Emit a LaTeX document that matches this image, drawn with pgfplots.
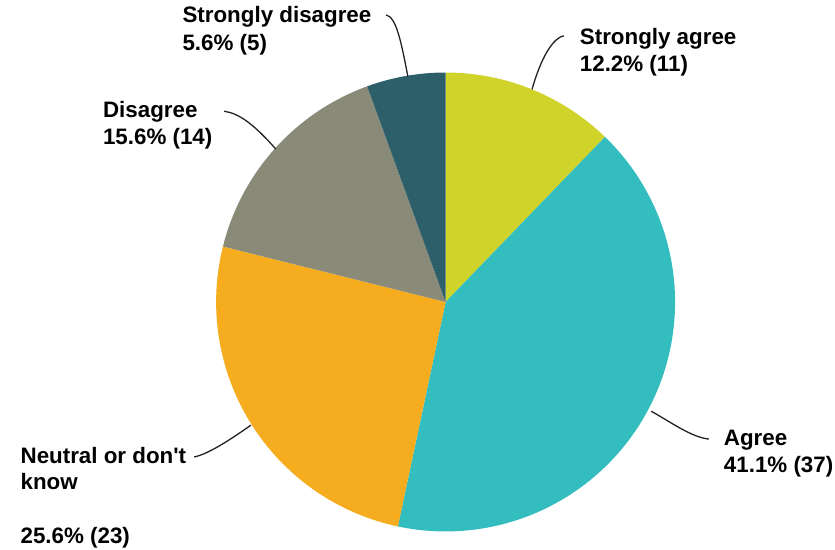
\documentclass[border=0pt]{standalone}
\usepackage{pgfplots}
\usepackage{pgfplotstable}
\pgfplotsset{compat=1.18}
\usepackage{fontspec}
\setmainfont{Liberation Sans}
\definecolor{slice0}{HTML}{D0D32A}
\definecolor{slice1}{HTML}{33BDBF}
\definecolor{slice2}{HTML}{F5AC1F}
\definecolor{slice3}{HTML}{898A78}
\definecolor{slice4}{HTML}{2D5F6B}
\definecolor{leader}{HTML}{222222}
\pgfplotstableread{
label count
SA 11
A 37
N 23
D 14
SD 5
}\piedata
\begin{document}
\def\cum{0}
\pgfplotsforeachungrouped \i in {0,...,4}{%
  \pgfplotstablegetelem{\i}{count}\of\piedata
  \pgfmathsetmacro\sa{90-(\cum/90)*360}%
  \pgfmathsetmacro\newcum{\cum+\pgfplotsretval}%
  \pgfmathsetmacro\ea{90-(\newcum/90)*360}%
  \expandafter\xdef\csname s\i\endcsname{\sa}%
  \expandafter\xdef\csname e\i\endcsname{\ea}%
  \xdef\cum{\newcum}%
}
\begin{tikzpicture}
\begin{axis}[
  at={(0,0)}, anchor=south west,
  width=835pt, height=553pt, scale only axis,
  xmin=0, xmax=835, ymin=0, ymax=553,
  hide axis, clip=false,
]
\pgfplotsinvokeforeach{0,...,4}{
  \addplot[fill=slice#1, draw=none, samples=120, variable=\t,
    domain={\csname e#1\endcsname}:{\csname s#1\endcsname}]
    ({443+231*cos(\t)},{249+231*sin(\t)}) -- (443,249) -- cycle;
}
% leader lines (pixel coords, y flipped: 553-y)
\draw[leader, line width=1.3pt] (383,538) .. controls (393,536) and (398,513) .. (405,476);
\draw[leader, line width=1.3pt] (220,441) .. controls (235,439) and (250,428) .. (272,403);
\draw[leader, line width=1.3pt] (562,517) .. controls (552,515) and (540,498) .. (530,463);
\draw[leader, line width=1.3pt] (650,139) .. controls (670,128) and (690,113) .. (708,111);
\draw[leader, line width=1.3pt] (190,93) .. controls (205,96) and (230,113) .. (247,125);
% labels
\tikzset{lab/.style={anchor=base west, inner sep=0pt,
  font=\fontsize{22.5}{27}\selectfont\bfseries, text=black}}
\node[lab] at (178,530) {Strongly disagree};
\node[lab] at (178,502) {5.6\% (5)};
\node[lab] at (578,508) {Strongly agree};
\node[lab] at (578,481) {12.2\% (11)};
\node[lab] at (98,435) {Disagree};
\node[lab] at (98,408) {15.6\% (14)};
\node[lab] at (723,105) {Agree};
\node[lab] at (723,77) {41.1\% (37)};
\node[lab] at (15,86) {Neutral or don\textquotesingle t};
\node[lab] at (15,60) {know};
\node[lab] at (15,6) {25.6\% (23)};
\end{axis}
\pgfresetboundingbox
\useasboundingbox (0,0) rectangle (835pt,553pt);
\end{tikzpicture}
\end{document}
